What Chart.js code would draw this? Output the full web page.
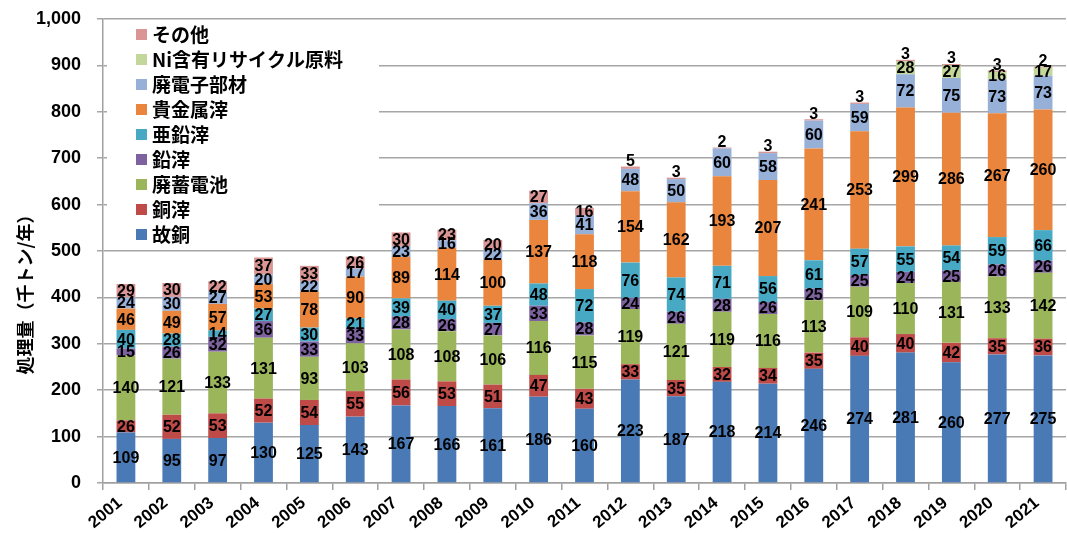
<!DOCTYPE html>
<html><head><meta charset="utf-8">
<script src="https://cdn.jsdelivr.net/npm/chart.js@4/dist/chart.umd.min.js"></script>
<style>html,body{margin:0;padding:0;background:#fff}#wrap{width:1067px;height:533px}</style>
</head><body><div id="wrap"><canvas id="c" width="1067" height="533"></canvas></div>
<script>
const years = ['2001','2002','2003','2004','2005','2006','2007','2008','2009','2010','2011','2012','2013','2014','2015','2016','2017','2018','2019','2020','2021'];
const seriesNames = ['故銅','銅滓','廃蓄電池','鉛滓','亜鉛滓','貴金属滓','廃電子部材','Ni含有リサイクル原料','その他'];
const yTickLabels = ['0','100','200','300','400','500','600','700','800','900','1,000'];
const yTitle = '処理量（千トン/年）';

const kodou      = [109,95,97,130,125,143,167,166,161,186,160,223,187,218,214,246,274,281,260,277,275];
const dousai     = [26,52,53,52,54,55,56,53,51,47,43,33,35,32,34,35,40,40,42,35,36];
const haichikuden= [140,121,133,131,93,103,108,108,106,116,115,119,121,119,116,113,109,110,131,133,142];
const ensai      = [15,26,32,36,33,33,28,26,27,33,28,24,26,28,26,25,25,24,25,26,26];
const aensai     = [40,28,14,27,30,21,39,40,37,48,72,76,74,71,56,61,57,55,54,59,66];
const kikinzoku  = [46,49,57,53,78,90,89,114,100,137,118,154,162,193,207,241,253,299,286,267,260];
const haidenshi  = [24,30,27,20,22,17,23,16,22,36,41,48,50,60,58,60,59,72,75,73,73];
const niGanyu    = [null,null,null,null,null,null,null,null,null,null,null,null,null,null,null,null,null,28,27,16,17];
const sonota     = [29,30,22,37,33,26,30,23,20,27,16,5,3,2,3,3,3,3,3,3,2];

const seriesValues = [kodou,dousai,haichikuden,ensai,aensai,kikinzoku,haidenshi,niGanyu,sonota];
const colors = ['#4A7AB5','#BE4B48','#9BB55A','#7E629F','#47A9C3','#E9853D','#97B0D8','#C4D79B','#D99694'];

const datasets = seriesNames.map((n,i)=>({label:n,data:seriesValues[i],backgroundColor:colors[i],barPercentage:0.41,categoryPercentage:1.0,borderWidth:0}));

const OTHER = 8;
const labelPlugin = {
  id:'custom',
  beforeDatasetsDraw(chart){
    const ctx = chart.ctx;
    ctx.save();
    ctx.fillStyle = '#fff';
    ctx.fillRect(107, 22, 272, 224);
    ctx.restore();
  },
  afterDatasetsDraw(chart){
    const ctx = chart.ctx;
    ctx.save();
    ctx.font = 'bold 16px "Liberation Sans", Arial, sans-serif';
    ctx.fillStyle = '#000';
    ctx.textAlign = 'center';
    ctx.textBaseline = 'middle';
    chart.data.datasets.forEach((ds,di)=>{
      const meta = chart.getDatasetMeta(di);
      meta.data.forEach((bar,i)=>{
        const v = ds.data[i];
        if (v === null || v === undefined || v === 0) return;
        let y = (bar.y + bar.base)/2;
        if (di === OTHER && v < 10) y = bar.y - 6;
        ctx.fillText(String(v), bar.x, y + 1);
      });
    });
    ctx.restore();
  },
  afterDraw(chart){
    const ctx = chart.ctx;
    ctx.save();
    ctx.font = 'bold 19px "Noto Sans CJK JP", sans-serif';
    ctx.textBaseline = 'middle';
    ctx.textAlign = 'left';
    const n = chart.data.datasets.length;
    for (let k = 0; k < n; k++) {
      const di = n - 1 - k;
      const y = 34 + k * 25;
      ctx.fillStyle = chart.data.datasets[di].backgroundColor;
      ctx.fillRect(136, y - 5, 11, 11);
      ctx.fillStyle = '#000';
      ctx.fillText(chart.data.datasets[di].label, 152, y + 1);
    }
    ctx.translate(25, 290);
    ctx.rotate(-Math.PI/2);
    ctx.textAlign = 'center';
    ctx.font = 'bold 18px "Noto Sans CJK JP", sans-serif';
    ctx.fillText(yTitle, 0, 0);
    ctx.restore();
  }
};

new Chart(document.getElementById('c'), {
  type:'bar',
  data:{labels:years, datasets},
  options:{
    responsive:false,
    animation:false,
    layout:{padding:{top:19,right:1,left:0,bottom:0}},
    plugins:{legend:{display:false},tooltip:{enabled:false}},
    scales:{
      x:{
        stacked:true,
        offset:true,
        grid:{display:true,drawOnChartArea:false,offset:true,color:'#a0a0a0',lineWidth:1.5,tickLength:7},
        border:{color:'#a0a0a0',width:1.5},
        ticks:{maxRotation:40,minRotation:40,autoSkip:false,padding:3,labelOffset:-6,color:'#000',font:{family:'"Liberation Sans", Arial, sans-serif',size:17,weight:'bold'}},
        afterFit(s){s.height = 50;}
      },
      y:{
        stacked:true,
        min:0,max:1000,
        grid:{color:'#a6a6a6',lineWidth:1.5,tickLength:6},
        border:{color:'#a0a0a0',width:1.5},
        ticks:{stepSize:100,padding:16,color:'#000',font:{family:'"Liberation Sans", Arial, sans-serif',size:18,weight:'bold'},
          callback:(v,i)=>yTickLabels[i]},
        afterFit(s){s.width = 103; s.paddingTop = 0; s.paddingBottom = 0;}
      }
    }
  },
  plugins:[labelPlugin]
});
</script></body></html>
